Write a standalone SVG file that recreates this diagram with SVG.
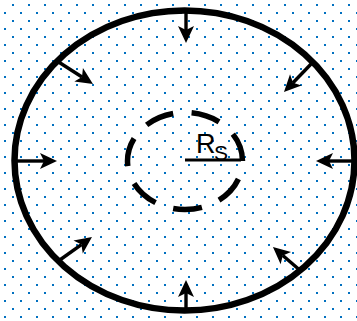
<svg xmlns="http://www.w3.org/2000/svg" width="357" height="321" viewBox="0 0 357 321">
  <defs>
    <pattern id="dots" patternUnits="userSpaceOnUse" width="16" height="16">
      <rect x="12" y="4" width="2" height="2" fill="#0070C0"/>
      <rect x="4" y="12" width="2" height="2" fill="#0070C0"/>
    </pattern>
    <marker id="head" markerUnits="userSpaceOnUse" markerWidth="18" markerHeight="18" refX="4" refY="0" orient="auto" overflow="visible">
      <path d="M17,0 L0,-8 L4,0 L0,8 Z" fill="#000"/>
    </marker>
  </defs>
  <style>
    .arrow { stroke: #000; stroke-width: 3.4; fill: none; marker-end: url(#head); }
    .label { font-family: "Liberation Sans", Arial, sans-serif; fill: #000; }
  </style>
  <rect x="0" y="0" width="357" height="321" fill="#fff"/>
  <rect x="0" y="0" width="357" height="321" fill="url(#dots)"/>

  <g id="outer-boundary">
    <ellipse cx="184.5" cy="160.5" rx="170" ry="150" fill="none" stroke="#000" stroke-width="6.5"/>
  </g>

  <g id="inner-surface">
    <ellipse cx="185" cy="161" rx="57.5" ry="48.5" fill="none" stroke="#000" stroke-width="5.5" pathLength="700" stroke-dasharray="61 39" stroke-dashoffset="61"/>
  </g>

  <g id="radius">
    <line x1="185" y1="160" x2="241" y2="160" stroke="#000" stroke-width="3"/>
    <text class="label" x="196" y="153" font-size="27">R<tspan font-size="21" x="214" y="160">S</tspan></text>
  </g>

  <g id="connectors">
    <line class="arrow" x1="186" y1="13" x2="186" y2="30"/>
    <line class="arrow" x1="186" y1="308" x2="186" y2="293"/>
    <line class="arrow" x1="16" y1="161" x2="44" y2="161"/>
    <line class="arrow" x1="353" y1="161" x2="329" y2="161"/>
    <line class="arrow" x1="57" y1="61" x2="82" y2="77"/>
    <line class="arrow" x1="313" y1="62" x2="293" y2="82.7"/>
    <line class="arrow" x1="57" y1="262" x2="81.4" y2="244.6"/>
    <line class="arrow" x1="302" y1="272" x2="282.8" y2="255.5"/>
  </g>
</svg>
